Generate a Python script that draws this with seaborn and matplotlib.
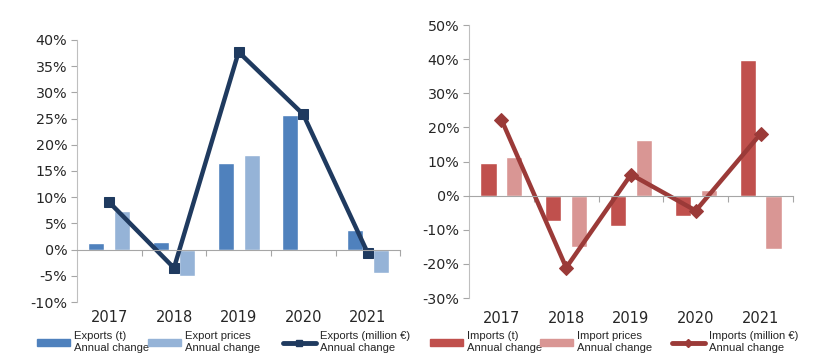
import matplotlib
matplotlib.use("Agg")
import matplotlib.pyplot as plt
import numpy as np
import pandas as pd
import seaborn as sns
from matplotlib.lines import Line2D
from matplotlib.patches import Patch
from matplotlib.ticker import FuncFormatter

years = ["2017", "2018", "2019", "2020", "2021"]

exports_t = [1.2, 1.5, 16.5, 25.7, 3.8]
export_prices = [7.4, -5.0, 18.1, 0.1, -4.5]
exports_eur = [9.0, -3.5, 37.7, 25.8, -0.7]

imports_t = [9.7, -7.3, -9.0, -6.0, 39.7]
import_prices = [11.2, -15.0, 16.4, 1.8, -15.7]
imports_eur = [22.3, -21.1, 6.2, -4.4, 18.1]

exp_labels = ["Exports (t)\nAnnual change", "Export prices\nAnnual change",
              "Exports (million €)\nAnnual change"]
imp_labels = ["Imports (t)\nAnnual change", "Import prices\nAnnual change",
              "Imports (million €)\nAnnual change"]

sns.set_style("white")
plt.rcParams["font.family"] = ["DejaVu Sans"]


def draw_panel(ax, bar_a, bar_b, line, labels, colors, marker, ylim, step, xpad):
    df = pd.DataFrame({
        "year": years * 2,
        "value": list(bar_a) + list(bar_b),
        "series": [labels[0]] * len(years) + [labels[1]] * len(years),
    })
    sns.barplot(data=df, x="year", y="value", hue="series", order=years,
                palette=colors[:2], width=0.8, gap=0.38, legend=False,
                saturation=1, ax=ax)
    x = np.arange(len(years))
    ms = 7.5 if marker == "s" else 7
    sns.lineplot(x=x, y=line, color=colors[2], lw=3.2, marker=marker,
                 markersize=ms, markeredgecolor=colors[2], ax=ax, legend=False)

    ax.set_xlim(-0.5, len(years) - 0.5)
    ax.set_ylim(*ylim)
    ax.set_yticks(np.arange(ylim[0], ylim[1] + 0.1, step))
    ax.yaxis.set_major_formatter(FuncFormatter(lambda v, p: f"{v:.0f}%"))
    ax.tick_params(axis="y", length=4, width=0.8, color="#a6a6a6",
                   labelsize=10.3, labelcolor="#262626", pad=3, left=True)
    ax.set_xlabel("")
    ax.set_ylabel("")

    for s in ["top", "right"]:
        ax.spines[s].set_visible(False)
    ax.spines["left"].set_color("#bfbfbf")
    ax.spines["bottom"].set_position(("data", 0))
    ax.spines["bottom"].set_color("#a6a6a6")
    ax.set_xticks(np.arange(len(years)) + 0.5)
    ax.set_xticklabels([])
    ax.tick_params(axis="x", length=4, width=0.8, color="#a6a6a6",
                   bottom=True, direction="out")

    sec = ax.secondary_xaxis(0)
    sec.set_xticks(x)
    sec.set_xticklabels(years)
    sec.tick_params(length=0, labelsize=10.5, labelcolor="#262626", pad=xpad)
    sec.spines["bottom"].set_visible(False)

    handles = [
        Patch(color=colors[0]),
        Patch(color=colors[1]),
        Line2D([], [], color=colors[2], lw=3.5, marker=marker, markersize=4.5),
    ]
    return handles


def add_legend(fig, handles, labels, xs_px):
    # one small legend per entry so each can sit where the reference has it
    for h, lab, xp in zip(handles, labels, xs_px):
        fig.legend([h], [lab], loc="upper left",
                   bbox_to_anchor=(xp / 820, 0.087), frameon=False,
                   borderpad=0, borderaxespad=0, handlelength=2.9,
                   handleheight=0.55, handletextpad=0.35, labelspacing=0,
                   prop={"family": "Liberation Sans", "size": 8.1})


fig = plt.figure(figsize=(8.2, 3.63), dpi=100)
ax1 = fig.add_axes([0.094, 0.168, 0.394, 0.722])
ax2 = fig.add_axes([0.572, 0.179, 0.395, 0.752])

h1 = draw_panel(ax1, exports_t, export_prices, exports_eur, exp_labels,
                ["#4f81bd", "#95b3d7", "#1f3a5f"], "s", (-10, 40), 5, 6)
h2 = draw_panel(ax2, imports_t, import_prices, imports_eur, imp_labels,
                ["#c0504d", "#d99694", "#9b3a38"], "D", (-30, 50), 10, 9)

add_legend(fig, h1, exp_labels, [37, 148, 283])
add_legend(fig, h2, imp_labels, [430, 540, 672])

fig.savefig("out.png", dpi=100)
